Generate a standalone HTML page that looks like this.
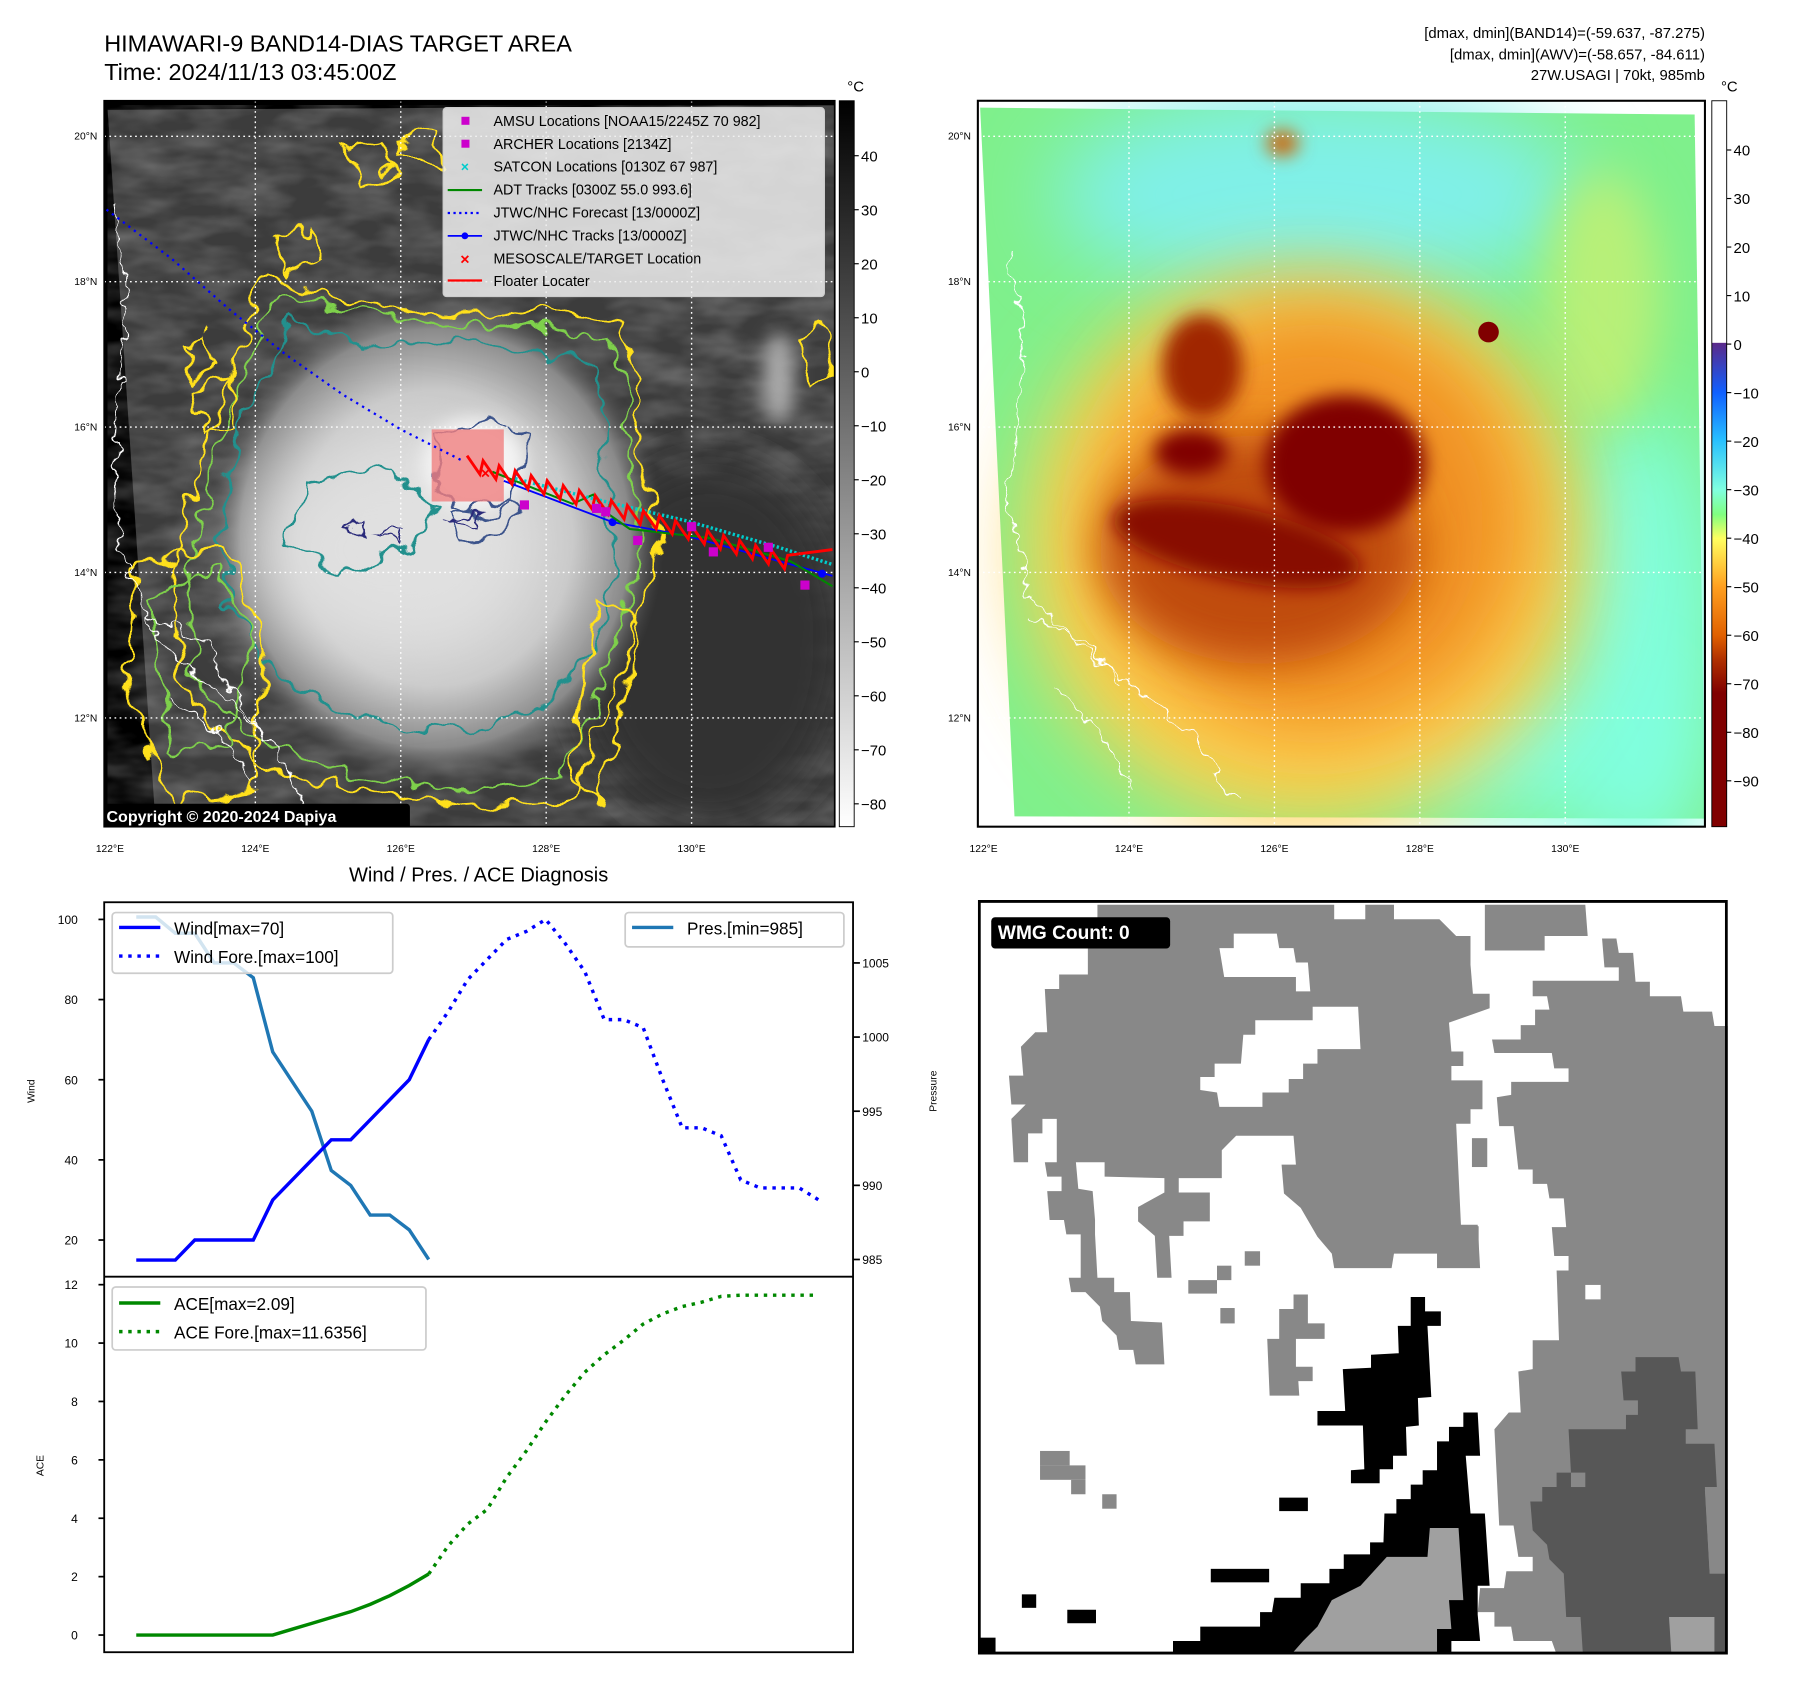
<!DOCTYPE html>
<html><head><meta charset="utf-8">
<style>
html,body{margin:0;padding:0;background:#fff;}
svg{display:block;font-family:"Liberation Sans","DejaVu Sans",sans-serif;}
</style></head>
<body>
<svg id="root" width="1797" height="1690" viewBox="0 0 1569.4 1476" preserveAspectRatio="none" xmlns="http://www.w3.org/2000/svg">
<defs>
  <filter id="wig" x="-20%" y="-20%" width="140%" height="140%">
    <feTurbulence type="fractalNoise" baseFrequency="0.045" numOctaves="2" seed="3" result="n"/>
    <feDisplacementMap in="SourceGraphic" in2="n" scale="28" xChannelSelector="R" yChannelSelector="G"/>
  </filter>
  <filter id="wig2" x="-20%" y="-20%" width="140%" height="140%">
    <feTurbulence type="fractalNoise" baseFrequency="0.08" numOctaves="2" seed="7" result="n"/>
    <feDisplacementMap in="SourceGraphic" in2="n" scale="18" xChannelSelector="R" yChannelSelector="G"/>
  </filter>
  <filter id="blur8" x="-100%" y="-100%" width="300%" height="300%"><feGaussianBlur stdDeviation="8"/></filter>
  <filter id="blur20" x="-60%" y="-60%" width="220%" height="220%"><feGaussianBlur stdDeviation="20"/></filter>
  <filter id="blur35" x="-60%" y="-60%" width="220%" height="220%"><feGaussianBlur stdDeviation="35"/></filter>
  <filter id="cloudtex" x="0" y="0" width="100%" height="100%">
    <feTurbulence type="fractalNoise" baseFrequency="0.02 0.05" numOctaves="3" seed="11"/>
    <feColorMatrix type="matrix" values="0 0 0 0 0.5  0 0 0 0 0.5  0 0 0 0 0.5  0 0 0 0.6 -0.2"/>
  </filter>
  <linearGradient id="cbL" x1="0" y1="0" x2="0" y2="1">
    <stop offset="0" stop-color="#000"/><stop offset="1" stop-color="#fff"/>
  </linearGradient>
  <linearGradient id="cbR" x1="0" y1="88" x2="0" y2="722" gradientUnits="userSpaceOnUse">
    <stop offset="0" stop-color="#fff"/><stop offset="0.333" stop-color="#fff"/>
    <stop offset="0.334" stop-color="#5a2a8a"/>
    <stop offset="0.402" stop-color="#1060ff"/>
    <stop offset="0.468" stop-color="#28c0ff"/>
    <stop offset="0.536" stop-color="#80ffe0"/>
    <stop offset="0.57" stop-color="#80ff80"/>
    <stop offset="0.603" stop-color="#ffff60"/>
    <stop offset="0.669" stop-color="#ffa020"/>
    <stop offset="0.737" stop-color="#e06000"/>
    <stop offset="0.77" stop-color="#b03000"/>
    <stop offset="0.816" stop-color="#800000"/>
    <stop offset="1" stop-color="#800000"/>
  </linearGradient>
  <radialGradient id="stormL" cx="0.5" cy="0.5" r="0.5">
    <stop offset="0" stop-color="#e8e8e8"/><stop offset="0.6" stop-color="#c8c8c8"/><stop offset="0.85" stop-color="#8a8a8a"/><stop offset="1" stop-color="#505050" stop-opacity="0"/>
  </radialGradient>
  <clipPath id="clipL"><rect x="91" y="88" width="638" height="634"/></clipPath>
  <clipPath id="clipR"><rect x="854" y="88" width="635" height="634"/></clipPath>
</defs>

<!-- titles -->
<text x="91" y="45" font-size="20.5">HIMAWARI-9 BAND14-DIAS TARGET AREA</text>
<text x="91" y="70" font-size="20.5">Time: 2024/11/13 03:45:00Z</text>
<g font-size="13" text-anchor="end">
  <text x="1489" y="33">[dmax, dmin](BAND14)=(-59.637, -87.275)</text>
  <text x="1489" y="52">[dmax, dmin](AWV)=(-58.657, -84.611)</text>
  <text x="1489" y="70">27W.USAGI | 70kt, 985mb</text>
</g>

<!-- LEFT MAP -->
<g clip-path="url(#clipL)">
  <rect x="91" y="88" width="638" height="634" fill="#000"/>
  <polygon points="94,96 729,92 729,722 136,722" fill="#3c3c3c"/>
  <polygon points="94,96 729,92 729,722 136,722" filter="url(#cloudtex)"/>
  <ellipse cx="620" cy="560" rx="120" ry="160" fill="#303030" filter="url(#blur20)"/>
  <ellipse cx="380" cy="470" rx="200" ry="215" fill="url(#stormL)"/>
  <ellipse cx="340" cy="480" rx="120" ry="90" fill="#e0e0e0" filter="url(#blur35)"/>
  <ellipse cx="414" cy="405" rx="45" ry="40" fill="#f4f4f4" filter="url(#blur8)"/>
  <ellipse cx="680" cy="330" rx="14" ry="40" fill="#aaa" filter="url(#blur8)"/>
  <!-- contours -->
  <g fill="none" stroke-width="2.2" filter="url(#wig)">
    <path stroke="#ffe01a" d="M230,240 L300,262 L380,275 L470,272 L540,282 L560,335 L555,400 L580,470 L560,525 L540,600 L500,695 L400,705 L300,690 L220,665 L160,600 L150,520 L170,420 L200,330 Z"/>
    <path stroke="#7ed04b" d="M240,255 L310,272 L390,285 L465,285 L530,295 L548,340 L545,400 L565,470 L548,525 L525,600 L490,680 L400,690 L300,675 L230,650 L170,595 L165,520 L182,425 L210,335 Z"/>
    <path stroke="#21908d" d="M255,280 L320,300 L400,300 L470,305 L520,320 L530,380 L530,440 L540,490 L520,560 L470,620 L390,640 L300,625 L240,590 L200,530 L195,450 L215,360 Z"/>
    <path stroke="#21908d" d="M270,420 L340,410 L380,440 L360,480 L300,500 L250,470 Z"/>
    <path stroke="#3b528b" d="M380,380 L430,365 L460,380 L455,420 L430,450 L395,445 L380,420 Z"/>
    <path stroke="#3b528b" d="M395,450 L440,435 L460,445 L430,470 L400,475 Z"/>
    <path stroke="#ffe01a" d="M160,300 L180,290 L190,320 L170,330 Z M300,130 L330,120 L350,150 L320,160 Z M170,340 L200,330 L210,370 L180,380 Z M240,210 L270,200 L280,230 L250,240 Z M700,290 L720,285 L725,330 L705,340 Z M350,120 L380,115 L385,140 L355,140 Z"/>
    <path stroke="#ffe01a" d="M520,520 L560,540 L545,620 L520,700 L500,680 Z"/>
    <path stroke="#7ed04b" d="M130,520 L190,500 L220,560 L200,650 L150,660 Z"/>
    <path stroke="#ffe01a" d="M120,490 L200,480 L230,560 L220,690 L150,700 L110,600 Z"/>
  </g>
  <g fill="none" stroke="#2c2c7a" stroke-width="1.8" filter="url(#wig2)">
    <path d="M300,460 L320,455 L318,470 Z M330,465 L350,460 L348,475 Z M390,455 L420,448 L418,462 Z"/>
  </g>
  <!-- coastline -->
  <g fill="none" stroke="#fff" stroke-width="1.1" filter="url(#wig2)">
    <path d="M100,180 L110,240 L108,300 L102,360 L100,430 L105,480 L120,520 L140,560 L170,590 L210,620 L240,650 L260,690 L270,720"/>
    <path d="M130,540 L180,560 L200,600 L230,640 M150,610 L190,640 L220,680"/>
  </g>
  <!-- grid -->
  <g stroke="#fff" stroke-width="1.2" stroke-dasharray="1.5,3">
    <line x1="223" y1="88" x2="223" y2="722"/><line x1="350" y1="88" x2="350" y2="722"/>
    <line x1="477" y1="88" x2="477" y2="722"/><line x1="604" y1="88" x2="604" y2="722"/>
    <line x1="91" y1="119" x2="729" y2="119"/><line x1="91" y1="246" x2="729" y2="246"/>
    <line x1="91" y1="373" x2="729" y2="373"/><line x1="91" y1="500" x2="729" y2="500"/>
    <line x1="91" y1="627" x2="729" y2="627"/>
  </g>
  <!-- target box -->
  <rect x="377" y="375" width="63" height="63" fill="#f08080" fill-opacity="0.8"/>
  <!-- tracks -->
  <polyline points="93,183 150,226 200,270 250,310 300,345 350,375 405,403" fill="none" stroke="#00f" stroke-width="2" stroke-dasharray="2,4"/>
  <polyline points="440,420 535,456 600,468 727,503" fill="none" stroke="#00f" stroke-width="1.6"/>
  <circle cx="535" cy="456" r="3.5" fill="#00f"/><circle cx="718" cy="501" r="3.5" fill="#00f"/>
  <polyline points="430,412 500,440 518,432 530,448 550,462 620,470 690,490 727,512" fill="none" stroke="#080" stroke-width="1.8"/>
  <polyline points="450,418 520,436 600,455 680,478 727,493" fill="none" stroke="#0cc" stroke-width="3" stroke-dasharray="2,2"/>
  <polyline id="floater" fill="none" stroke="#f00" stroke-width="2.5"/>
  <text x="424" y="418" font-size="14" fill="#f00" text-anchor="middle" font-weight="bold">×</text>
  <g fill="#c0c">
    <rect x="454" y="437" width="8" height="8"/><rect x="517" y="440" width="8" height="8"/><rect x="525" y="443" width="8" height="8"/>
    <rect x="553" y="468" width="8" height="8"/><rect x="619" y="478" width="8" height="8"/><rect x="667" y="474" width="8" height="8"/>
    <rect x="699" y="507" width="8" height="8"/><rect x="600" y="456" width="8" height="8"/>
  </g>
  <!-- legend -->
  <g>
    <rect x="387" y="94" width="333" height="165" rx="3" fill="#eee" fill-opacity="0.85" stroke="#ccc"/>
    <g font-size="12.5" fill="#000">
      <rect x="403" y="102" width="7" height="7" fill="#c0c"/><text x="431" y="110">AMSU Locations [NOAA15/2245Z 70 982]</text>
      <rect x="403" y="122" width="7" height="7" fill="#c0c"/><text x="431" y="130">ARCHER Locations [2134Z]</text>
      <text x="406" y="150" fill="#0cc" font-size="12" text-anchor="middle" font-weight="bold">×</text><text x="431" y="150">SATCON Locations [0130Z 67 987]</text>
      <line x1="391" y1="166" x2="421" y2="166" stroke="#080" stroke-width="1.8"/><text x="431" y="170">ADT Tracks [0300Z 55.0 993.6]</text>
      <line x1="391" y1="186" x2="421" y2="186" stroke="#00f" stroke-width="2" stroke-dasharray="2,3"/><text x="431" y="190">JTWC/NHC Forecast [13/0000Z]</text>
      <line x1="391" y1="206" x2="421" y2="206" stroke="#00f" stroke-width="1.6"/><circle cx="406" cy="206" r="3" fill="#00f"/><text x="431" y="210">JTWC/NHC Tracks [13/0000Z]</text>
      <text x="406" y="231" fill="#f00" font-size="14" text-anchor="middle" font-weight="bold">×</text><text x="431" y="230">MESOSCALE/TARGET Location</text>
      <line x1="391" y1="245" x2="421" y2="245" stroke="#f00" stroke-width="2"/><text x="431" y="250">Floater Locater</text>
    </g>
  </g>
  <rect x="88" y="702" width="270" height="22" rx="3" fill="#000"/>
  <text x="93" y="718" font-size="14" font-weight="bold" fill="#fff">Copyright © 2020-2024 Dapiya</text>
</g>
<rect x="91" y="88" width="638" height="634" fill="none" stroke="#000" stroke-width="1.5"/>
<g font-size="9" text-anchor="end">
  <text x="85" y="122">20°N</text><text x="85" y="249">18°N</text><text x="85" y="376">16°N</text><text x="85" y="503">14°N</text><text x="85" y="630">12°N</text>
</g>
<g font-size="9" text-anchor="middle">
  <text x="96" y="744">122°E</text><text x="223" y="744">124°E</text><text x="350" y="744">126°E</text><text x="477" y="744">128°E</text><text x="604" y="744">130°E</text>
</g>
<!-- left colorbar -->
<rect x="733" y="88" width="13" height="634" fill="url(#cbL)" stroke="#000" stroke-width="0.8"/>
<text x="740" y="80" font-size="13">°C</text>
<g id="cbLticks" font-size="13"></g>

<!-- RIGHT MAP -->
<g clip-path="url(#clipR)">
  <rect x="854" y="88" width="635" height="634" fill="#fff"/>
  <polygon points="856,94 1480,100 1489,715 886,713" fill="#7ff08c"/>
  <ellipse cx="1150" cy="170" rx="230" ry="90" fill="#80f0e8" filter="url(#blur35)"/>
  <ellipse cx="1430" cy="560" rx="70" ry="200" fill="#80ffe0" filter="url(#blur35)"/>
  <ellipse cx="1330" cy="650" rx="120" ry="60" fill="#80ffe0" filter="url(#blur35)"/>
  <ellipse cx="1400" cy="260" rx="50" ry="110" fill="#b8f078" filter="url(#blur20)"/>
  <ellipse cx="1140" cy="480" rx="245" ry="240" fill="#ffd050" filter="url(#blur35)"/>
  <ellipse cx="1150" cy="455" rx="185" ry="185" fill="#f09020" filter="url(#blur35)"/>
  <ellipse cx="1100" cy="480" rx="140" ry="100" fill="#c04c08" filter="url(#blur20)"/>
  <ellipse cx="1050" cy="320" rx="35" ry="45" fill="#a02800" filter="url(#blur8)"/>
  <ellipse cx="1040" cy="395" rx="32" ry="20" fill="#800000" filter="url(#blur8)"/>
  <ellipse cx="1080" cy="475" rx="110" ry="32" fill="#880800" transform="rotate(12 1080 475)" filter="url(#blur8)"/>
  <ellipse cx="1175" cy="405" rx="70" ry="60" fill="#800000" filter="url(#blur8)"/>
  <ellipse cx="1300" cy="290" rx="9" ry="9" fill="#800000"/>
  <ellipse cx="1120" cy="125" rx="14" ry="11" fill="#d06000" filter="url(#blur8)"/>
  <g fill="none" stroke="#fff" stroke-width="1.1" filter="url(#wig2)">
    <path d="M880,220 L895,300 L888,380 L880,440 L900,520 L940,560 L990,600 L1040,640 L1080,700"/>
    <path d="M900,540 L950,560 L980,600 M920,600 L960,640 L990,690"/>
  </g>
  <g stroke="#fff" stroke-width="1.2" stroke-dasharray="1.5,3">
    <line x1="986" y1="88" x2="986" y2="722"/><line x1="1113" y1="88" x2="1113" y2="722"/>
    <line x1="1240" y1="88" x2="1240" y2="722"/><line x1="1367" y1="88" x2="1367" y2="722"/>
    <line x1="854" y1="119" x2="1489" y2="119"/><line x1="854" y1="246" x2="1489" y2="246"/>
    <line x1="854" y1="373" x2="1489" y2="373"/><line x1="854" y1="500" x2="1489" y2="500"/>
    <line x1="854" y1="627" x2="1489" y2="627"/>
  </g>
</g>
<rect x="854" y="88" width="635" height="634" fill="none" stroke="#000" stroke-width="1.8"/>
<g font-size="9" text-anchor="end">
  <text x="848" y="122">20°N</text><text x="848" y="249">18°N</text><text x="848" y="376">16°N</text><text x="848" y="503">14°N</text><text x="848" y="630">12°N</text>
</g>
<g font-size="9" text-anchor="middle">
  <text x="859" y="744">122°E</text><text x="986" y="744">124°E</text><text x="1113" y="744">126°E</text><text x="1240" y="744">128°E</text><text x="1367" y="744">130°E</text>
</g>
<rect x="1495" y="88" width="13" height="634" fill="url(#cbR)" stroke="#000" stroke-width="0.8"/>
<text x="1503" y="80" font-size="13">°C</text>
<g id="cbRticks" font-size="13"></g>

<!-- BOTTOM LEFT CHART -->
<text x="418" y="770" font-size="17.5" text-anchor="middle">Wind / Pres. / ACE Diagnosis</text>
<g id="chart"></g>
<rect x="91" y="788" width="654" height="655" fill="none" stroke="#000" stroke-width="1.6"/>
<line x1="91" y1="1115" x2="745" y2="1115" stroke="#000" stroke-width="1.6"/>
<text font-size="9" transform="translate(30,953) rotate(-90)" text-anchor="middle">Wind</text>
<text font-size="9" transform="translate(818,953) rotate(-90)" text-anchor="middle">Pressure</text>
<text font-size="9" transform="translate(38,1280) rotate(-90)" text-anchor="middle">ACE</text>
<g>
  <rect x="98" y="797" width="245" height="53" rx="3" fill="#fff" fill-opacity="0.8" stroke="#ccc" stroke-width="1.5"/>
  <line x1="104" y1="810" x2="140" y2="810" stroke="#00f" stroke-width="3"/>
  <line x1="104" y1="835" x2="140" y2="835" stroke="#00f" stroke-width="3" stroke-dasharray="3,5"/>
  <text x="152" y="816" font-size="15">Wind[max=70]</text>
  <text x="152" y="841" font-size="15">Wind Fore.[max=100]</text>
</g>
<g>
  <rect x="546" y="797" width="191" height="30" rx="3" fill="#fff" fill-opacity="0.8" stroke="#ccc" stroke-width="1.5"/>
  <line x1="552" y1="810" x2="588" y2="810" stroke="#1f77b4" stroke-width="3"/>
  <text x="600" y="816" font-size="15">Pres.[min=985]</text>
</g>
<g>
  <rect x="98" y="1124" width="274" height="55" rx="3" fill="#fff" fill-opacity="0.8" stroke="#ccc" stroke-width="1.5"/>
  <line x1="104" y1="1138" x2="140" y2="1138" stroke="#080" stroke-width="3"/>
  <line x1="104" y1="1163" x2="140" y2="1163" stroke="#080" stroke-width="3" stroke-dasharray="3,5"/>
  <text x="152" y="1144" font-size="15">ACE[max=2.09]</text>
  <text x="152" y="1169" font-size="15">ACE Fore.[max=11.6356]</text>
</g>

<!-- WMG PANEL -->
<svg x="854" y="786" width="655" height="659" viewBox="0 0 1568 1568" preserveAspectRatio="none">
  <rect x="0" y="0" width="1568" height="1568" fill="#fff"/>
  <g fill="#888">
    <path fill-rule="evenodd" d="M250,10 L745,10 L745,40 L810,40 L810,10 L870,10 L870,40 L965,40 L1000,75 L1030,75 L1030,135 L1035,195 L1070,195 L1070,225 L985,255 L990,315 L1015,315 L1015,345 L990,345 L990,375 L1055,375 L1055,435 L1030,435 L1030,465 L1000,465 L1010,675 L1045,675 L1050,765 L960,765 L960,735 L870,735 L865,765 L745,765 L740,735 L710,700 L675,640 L640,610 L635,550 L665,550 L660,490 L540,490 L510,520 L510,578 L420,578 L420,608 L485,608 L485,668 L430,668 L430,698 L400,698 L405,785 L375,785 L370,698 L335,668 L335,638 L390,608 L390,578 L265,575 L265,545 L205,545 L210,600 L240,605 L245,665 L245,695 L250,785 L285,785 L285,815 L318,815 L320,875 L385,878 L390,965 L330,965 L325,935 L295,935 L290,905 L260,875 L255,845 L225,815 L195,815 L190,785 L215,785 L215,695 L185,695 L180,665 L150,665 L145,605 L175,605 L175,575 L145,575 L140,545 L165,545 L165,455 L135,455 L135,485 L105,485 L105,545 L75,545 L70,455 L100,425 L70,425 L65,365 L95,365 L90,305 L120,275 L145,275 L140,185 L170,185 L170,155 L230,155 L230,100 L250,100 Z
    M505,100 L535,100 L535,70 L625,70 L630,100 L660,100 L665,130 L690,130 L695,190 L665,190 L665,160 L515,160 Z
    M580,250 L700,250 L700,222 L795,222 L800,310 L710,310 L710,340 L680,340 L680,372 L650,372 L650,400 L595,400 L595,430 L505,430 L500,400 L465,395 L465,368 L495,368 L495,340 L550,340 L555,280 L580,280 Z"/>
    <path d="M1060,10 L1270,10 L1275,75 L1185,75 L1185,105 L1060,105 Z"/>
    <path d="M1305,80 L1335,80 L1340,110 L1370,110 L1375,170 L1405,170 L1405,200 L1470,200 L1475,232 L1535,232 L1540,262 L1568,262 L1568,1568 L1210,1568 L1200,1540 L1120,1540 L1115,1510 L1080,1510 L1080,1480 L1045,1480 L1050,1430 L1100,1430 L1105,1395 L1160,1395 L1160,1365 L1130,1365 L1120,1300 L1090,1300 L1080,1100 L1110,1065 L1135,1065 L1130,980 L1160,975 L1160,915 L1215,915 L1210,770 L1235,770 L1235,740 L1205,740 L1200,680 L1230,680 L1225,620 L1195,620 L1190,590 L1160,590 L1160,560 L1130,560 L1120,470 L1090,470 L1085,410 L1115,405 L1115,378 L1235,378 L1235,350 L1205,350 L1200,318 L1080,318 L1075,290 L1135,290 L1135,260 L1165,260 L1165,228 L1195,228 L1190,200 L1160,200 L1160,168 L1340,168 L1340,140 L1310,140 Z"/>
    <path d="M660,820 L690,820 L690,880 L725,880 L725,912 L665,912 L665,970 L700,970 L700,1000 L670,1000 L672,1030 L610,1030 L605,912 L630,912 L630,850 L660,850 Z"/>
    <rect x="1033" y="495" width="32" height="60"/><rect x="1015" y="678" width="32" height="60"/>
    <rect x="558" y="730" width="32" height="30"/><rect x="500" y="760" width="30" height="30"/><rect x="440" y="790" width="60" height="28"/>
    <rect x="507" y="848" width="30" height="32"/><rect x="130" y="1145" width="62" height="30"/><rect x="130" y="1175" width="95" height="30"/>
    <rect x="195" y="1205" width="30" height="30"/><rect x="260" y="1235" width="30" height="30"/>
  </g>
  <rect x="1270" y="800" width="32" height="30" fill="#fff"/>
  <path fill="#575757" d="M1375,950 L1465,950 L1470,980 L1500,980 L1505,1100 L1480,1100 L1480,1130 L1540,1130 L1545,1220 L1520,1220 L1530,1400 L1568,1400 L1568,1568 L1265,1568 L1260,1490 L1230,1490 L1225,1400 L1195,1370 L1190,1340 L1160,1310 L1155,1250 L1180,1250 L1180,1220 L1210,1220 L1210,1190 L1240,1190 L1235,1100 L1355,1100 L1355,1070 L1380,1070 L1380,1040 L1350,1040 L1345,980 L1375,980 Z"/>
  <rect x="1240" y="1190" width="30" height="30" fill="#888"/>
  <path fill="#888" d="M1520,1225 L1568,1225 L1568,1400 L1530,1400 Z"/>
  <path fill="#a0a0a0" d="M1445,1490 L1540,1490 L1540,1568 L1450,1568 Z"/>
  <g fill="#000">
    <path d="M905,825 L935,825 L935,855 L968,855 L968,885 L940,885 L948,1033 L920,1035 L922,1092 L895,1095 L897,1155 L868,1155 L868,1183 L840,1183 L840,1212 L780,1212 L780,1185 L808,1183 L805,1092 L710,1092 L710,1062 L768,1062 L763,975 L822,972 L822,945 L880,942 L878,885 L905,885 Z"/>
    <path d="M1015,1065 L1045,1065 L1050,1155 L1020,1155 L1030,1275 L1060,1275 L1070,1425 L1045,1425 L1045,1485 L1050,1540 L990,1540 L990,1568 L408,1568 L408,1540 L465,1540 L465,1510 L590,1510 L590,1480 L615,1480 L620,1450 L675,1450 L675,1420 L735,1420 L735,1390 L765,1390 L765,1360 L820,1360 L820,1335 L848,1335 L850,1275 L875,1275 L875,1245 L905,1245 L905,1215 L930,1215 L930,1185 L960,1185 L960,1125 L985,1125 L985,1095 L1015,1095 Z"/>
    <rect x="630" y="1242" width="60" height="28"/><rect x="487" y="1390" width="122" height="28"/>
    <rect x="92" y="1443" width="30" height="28"/><rect x="187" y="1475" width="60" height="28"/><rect x="5" y="1533" width="32" height="35"/>
  </g>
  <path fill="#a0a0a0" d="M945,1305 L1005,1305 L1015,1455 L985,1455 L990,1515 L960,1515 L960,1568 L655,1568 L680,1540 L710,1510 L740,1455 L800,1425 L855,1365 L940,1365 Z"/>
  <rect x="28" y="36" width="374" height="65" rx="8" fill="#000"/>
  <text x="42" y="81" font-size="40" font-weight="bold" fill="#fff">WMG Count: 0</text>
  <rect x="3" y="3" width="1562" height="1562" fill="none" stroke="#000" stroke-width="6"/>
</svg>

<script>
// ---- chart data ----
var windObs = [15,15,15,20,20,20,20,30,35,40,45,45,50,55,60,70];
var windFore = [70,77,85,90,95,97,100,94,87,75,75,73,60,48,48,46,35,33,33,33,30];
var presObs = [1008.1,1008.1,1007,1007,1005,1005,1004,999,997,995,991,990,988,988,987,985];
var aceObs = [0,0,0,0,0,0,0,0,0.2,0.4,0.6,0.8,1.05,1.35,1.7,2.09];
var aceFore = [2.09,3.06,3.8,4.3,5.4,6.3,7.3,8.2,9.0,9.6,10.1,10.65,11.0,11.25,11.4,11.6,11.64,11.64,11.64,11.64,11.64];
var windTicks = [20,40,60,80,100];
var presTicks = [985,990,995,1000,1005];
var aceTicks = [0,2,4,6,8,10,12];
var cbLeftTicks = [40,30,20,10,0,-10,-20,-30,-40,-50,-60,-70,-80];
var cbRightTicks = [40,30,20,10,0,-10,-20,-30,-40,-50,-60,-70,-80,-90];

var NS = 'http://www.w3.org/2000/svg';
function xAt(i){ return 119 + i * (596/35); }
function yWind(w){ return 1083 - (w-20)*3.5; }
function yPres(p){ return 1100 - (p-985)*12.95; }
function yAce(a){ return 1428 - a*25.5; }
function yCbL(v){ return 136 - (v-40)*4.717; }
function yCbR(v){ return 131 - (v-40)*4.238; }

var chart = document.getElementById('chart');
function mk(tag, attrs, parent){
  var el = document.createElementNS(NS, tag);
  for (var k in attrs) el.setAttribute(k, attrs[k]);
  (parent||chart).appendChild(el);
  return el;
}
function pts(arr, off, yf){
  return arr.map(function(v,i){ return xAt(i+off).toFixed(1)+','+yf(v).toFixed(1); }).join(' ');
}
var l;
l = mk('polyline', {points: pts(presObs,0,yPres), fill:'none', stroke:'#1f77b4', 'stroke-width':3});


l = mk('polyline', {points: pts(windObs,0,yWind), fill:'none', stroke:'#00f', 'stroke-width':3});


l = mk('polyline', {points: pts(windFore,15,yWind), fill:'none', stroke:'#00f', 'stroke-width':3, 'stroke-dasharray':'3,5'});


l = mk('polyline', {points: pts(aceObs,0,yAce), fill:'none', stroke:'#080', 'stroke-width':3});


l = mk('polyline', {points: pts(aceFore,15,yAce), fill:'none', stroke:'#080', 'stroke-width':3, 'stroke-dasharray':'3,5'});



windTicks.forEach(function(v){
  var y = yWind(v);
  mk('line', {x1:86, y1:y, x2:91, y2:y, stroke:'#000', 'stroke-width':1.5});
  var t = mk('text', {x:68, y:y+4, 'font-size':10.5, 'text-anchor':'end'});
  t.textContent = v;
  
  
});
presTicks.forEach(function(v){
  var y = yPres(v);
  mk('line', {x1:745, y1:y, x2:751, y2:y, stroke:'#000', 'stroke-width':1.5});
  var t = mk('text', {x:753, y:y+4, 'font-size':10.5});
  t.textContent = v;
  
  
});
aceTicks.forEach(function(v){
  var y = yAce(v);
  mk('line', {x1:86, y1:y, x2:91, y2:y, stroke:'#000', 'stroke-width':1.5});
  var t = mk('text', {x:68, y:y+4, 'font-size':10.5, 'text-anchor':'end'});
  t.textContent = v;
  
  
});

var gL = document.getElementById('cbLticks');
cbLeftTicks.forEach(function(v){
  var y = yCbL(v);
  mk('line', {x1:746, y1:y, x2:750, y2:y, stroke:'#000'}, gL);
  var t = mk('text', {x:752, y:y+5}, gL);
  t.textContent = v < 0 ? '\u2212' + Math.abs(v) : v;
  
  
});
var gR = document.getElementById('cbRticks');
cbRightTicks.forEach(function(v){
  var y = yCbR(v);
  mk('line', {x1:1508, y1:y, x2:1512, y2:y, stroke:'#000'}, gR);
  var t = mk('text', {x:1514, y:y+5}, gR);
  t.textContent = v < 0 ? '\u2212' + Math.abs(v) : v;
  
  
});

// floater zigzag
var fl = [];
var x0=410,y0=405,x1=690,y1=492,n=40;
for (var i=0;i<=n;i++){
  var f=i/n, off=(i%2?7:-7);
  fl.push((x0+(x1-x0)*f+off*0.3).toFixed(1)+','+(y0+(y1-y0)*f+off).toFixed(1));
}
fl.push('727,480');
document.getElementById('floater').setAttribute('points', fl.join(' '));
</script>
</svg>
</body></html>
